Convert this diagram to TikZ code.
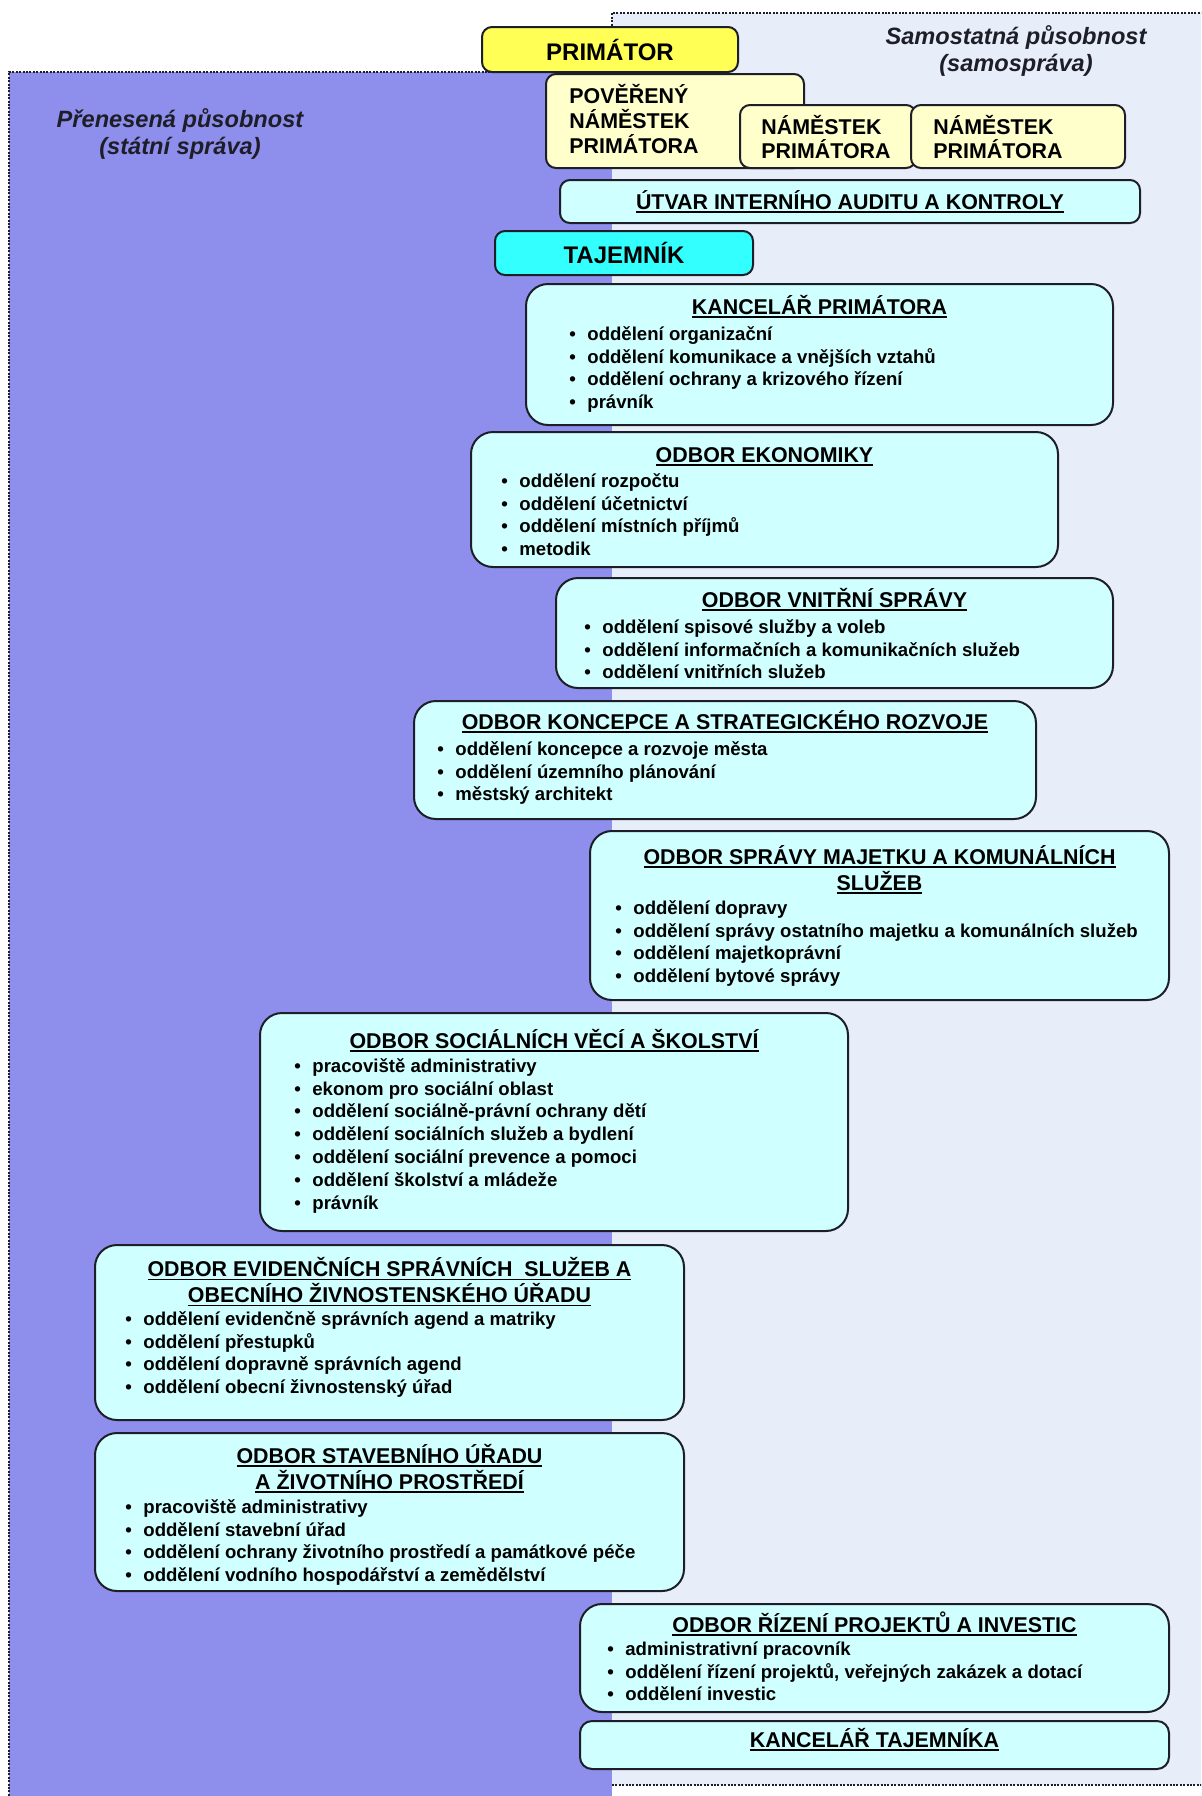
\documentclass[tikz,border=0pt]{standalone}
\usepackage{fontspec}
\setmainfont{Liberation Sans}
\definecolor{statebg}{RGB}{142,142,236}
\definecolor{selfbg}{RGB}{231,238,250}
\definecolor{unitfill}{RGB}{208,255,255}
\definecolor{headfill}{RGB}{255,255,85}
\definecolor{deputyfill}{RGB}{255,255,204}
\definecolor{secfill}{RGB}{51,255,255}
\definecolor{frame}{RGB}{30,30,40}
\newcommand{\bul}{\makebox[9pt][l]{\textbullet}}
\newsavebox{\hdbox}
\newcommand{\hdline}[1]{\sbox{\hdbox}{#1}\rlap{\rule[-1.7pt]{\wd\hdbox}{0.8pt}}\usebox{\hdbox}}

\begin{document}
\begin{tikzpicture}[x=0.5pt,y=-0.5pt,font=\bfseries,
  unit/.style={draw=frame,line width=1pt,fill=unitfill,rounded corners=11pt,inner sep=0pt},
  small/.style={unit,rounded corners=5pt},
  ttl/.style={inner sep=0pt,align=center,font=\fontsize{10.7}{13}\selectfont\bfseries},
  dtxt/.style={anchor=west,inner sep=0pt,align=left,font=\fontsize{10.7}{12}\selectfont\bfseries},
  lst/.style={inner sep=0pt,align=left,anchor=north west,font=\fontsize{9.3}{11.4}\selectfont\bfseries},
  area/.style={text=frame,align=center,font=\fontsize{11.8}{13.7}\selectfont\bfseries\itshape},
  border/.style={draw=frame,line width=1pt,dash pattern=on 1pt off 0.7pt}]
  \useasboundingbox (0,0) rectangle (1201,1796);
  \clip (0,0) rectangle (1201,1796);
  % two areas of competence
  \fill[selfbg] (612,13) rectangle (1210,1785);
  \fill[statebg] (9,72) rectangle (612,1806);
  \draw[border] (1210,13) -- (612,13) -- (612,72);
  \draw[border] (612,1785) -- (1210,1785);
  \draw[border] (9,1806) -- (9,72) -- (612,72);
  \node[area] (state) at (180,134) {Přenesená působnost\\(státní správa)};
  \node[area] (self) at (1016,51) {Samostatná působnost\\(samospráva)};

  % top management
  \node[small,fill=headfill,minimum width=128pt,minimum height=22.5pt,font=\fontsize{12}{14}\selectfont\bfseries] (prim) at (610,49.5) {PRIMÁTOR};
  \node[small,fill=deputyfill,minimum width=129pt,minimum height=47pt] (dep0) at (675,121) {};
  \node[dtxt,font=\fontsize{10.7}{12.5}\selectfont\bfseries] (dep0-t) at (569,119) {POVĚŘENÝ\\NÁMĚSTEK\\PRIMÁTORA};
  \node[small,fill=deputyfill,minimum width=88pt,minimum height=31.5pt] (dep1) at (828,136.5) {};
  \node[dtxt] (dep1-t) at (761,137.5) {NÁMĚSTEK\\PRIMÁTORA};
  \node[small,fill=deputyfill,minimum width=107pt,minimum height=31.5pt] (dep2) at (1018,136.5) {};
  \node[dtxt] (dep2-t) at (933,137.5) {NÁMĚSTEK\\PRIMÁTORA};
  \node[small,minimum width=290pt,minimum height=21.5pt,font=\fontsize{10.7}{13}\selectfont\bfseries] (audit) at (850,201.5) {\hdline{ÚTVAR INTERNÍHO AUDITU A KONTROLY}};
  \node[small,fill=secfill,minimum width=129pt,minimum height=22pt,font=\fontsize{12}{14}\selectfont\bfseries] (taj) at (624,253) {TAJEMNÍK};

  % departments
  \node[unit,minimum width=293.5pt,minimum height=70.5pt] (kp) at (819.5,354.5) {};
  \node[ttl,anchor=base] (kp-t) at (819.5,314.5) {\hdline{KANCELÁŘ PRIMÁTORA}};
  \node[lst] (kp-l) at (569,324) {\strut\bul oddělení organizační\\\bul oddělení komunikace a vnějších vztahů\\\bul oddělení ochrany a krizového řízení\\\bul právník};

  \node[unit,minimum width=293.5pt,minimum height=67.5pt] (eko) at (764.5,499.5) {};
  \node[ttl,anchor=base] (eko-t) at (764.5,462.5) {\hdline{ODBOR EKONOMIKY}};
  \node[lst] (eko-l) at (501,471) {\strut\bul oddělení rozpočtu\\\bul oddělení účetnictví\\\bul oddělení místních příjmů\\\bul metodik};

  \node[unit,minimum width=278.5pt,minimum height=55pt] (vs) at (834.5,633) {};
  \node[ttl,anchor=base] (vs-t) at (834.5,607.5) {\hdline{ODBOR VNITŘNÍ SPRÁVY}};
  \node[lst] (vs-l) at (584,617) {\strut\bul oddělení spisové služby a voleb\\\bul oddělení informačních a komunikačních služeb\\\bul oddělení vnitřních služeb};

  \node[unit,minimum width=311pt,minimum height=59pt] (kon) at (725,760) {};
  \node[ttl,anchor=base] (kon-t) at (725,729.5) {\hdline{ODBOR KONCEPCE A STRATEGICKÉHO ROZVOJE}};
  \node[lst] (kon-l) at (437,739) {\strut\bul oddělení koncepce a rozvoje města\\\bul oddělení územního plánování\\\bul městský architekt};

  \node[unit,minimum width=289.5pt,minimum height=84.5pt] (maj) at (879.5,915.5) {};
  \node[ttl] (maj-t) at (879.5,869.5) {\hdline{ODBOR SPRÁVY MAJETKU A KOMUNÁLNÍCH}\\\hdline{SLUŽEB}};
  \node[lst] (maj-l) at (615,898) {\strut\bul oddělení dopravy\\\bul oddělení správy ostatního majetku a komunálních služeb\\\bul oddělení majetkoprávní\\\bul oddělení bytové správy};

  \node[unit,minimum width=294pt,minimum height=109pt] (soc) at (554,1122) {};
  \node[ttl,anchor=base] (soc-t) at (554,1048.5) {\hdline{ODBOR SOCIÁLNÍCH VĚCÍ A ŠKOLSTVÍ}};
  \node[lst] (soc-l) at (294,1056) {\strut\bul pracoviště administrativy\\\bul ekonom pro sociální oblast\\\bul oddělení sociálně-právní ochrany dětí\\\bul oddělení sociálních služeb a bydlení\\\bul oddělení sociální prevence a pomoci\\\bul oddělení školství a mládeže\\\bul právník};

  \node[unit,minimum width=294.5pt,minimum height=87.5pt] (evi) at (389.5,1332.5) {};
  \node[ttl] (evi-t) at (389.5,1282) {\hdline{ODBOR EVIDENČNÍCH SPRÁVNÍCH\ \ SLUŽEB A}\\\hdline{OBECNÍHO ŽIVNOSTENSKÉHO ÚŘADU}};
  \node[lst] (evi-l) at (125,1309) {\strut\bul oddělení evidenčně správních agend a matriky\\\bul oddělení přestupků\\\bul oddělení dopravně správních agend\\\bul oddělení obecní živnostenský úřad};

  \node[unit,minimum width=294.5pt,minimum height=79pt] (sta) at (389.5,1512) {};
  \node[ttl] (sta-t) at (389.5,1468.5) {\hdline{ODBOR STAVEBNÍHO ÚŘADU}\\\hdline{A ŽIVOTNÍHO PROSTŘEDÍ}};
  \node[lst] (sta-l) at (125,1497) {\strut\bul pracoviště administrativy\\\bul oddělení stavební úřad\\\bul oddělení ochrany životního prostředí a památkové péče\\\bul oddělení vodního hospodářství a zemědělství};

  \node[unit,minimum width=294.5pt,minimum height=54pt] (riz) at (874.5,1658) {};
  \node[ttl,anchor=base] (riz-t) at (874.5,1632.5) {\hdline{ODBOR ŘÍZENÍ PROJEKTŮ A INVESTIC}};
  \node[lst] (riz-l) at (607,1639) {\strut\bul administrativní pracovník\\\bul oddělení řízení projektů, veřejných zakázek a dotací\\\bul oddělení investic};

  \node[unit,rounded corners=6pt,minimum width=294.5pt,minimum height=24pt] (kt) at (874.5,1745) {};
  \node[ttl,anchor=base] (kt-t) at (874.5,1747.5) {\hdline{KANCELÁŘ TAJEMNÍKA}};
\end{tikzpicture}
\end{document}
